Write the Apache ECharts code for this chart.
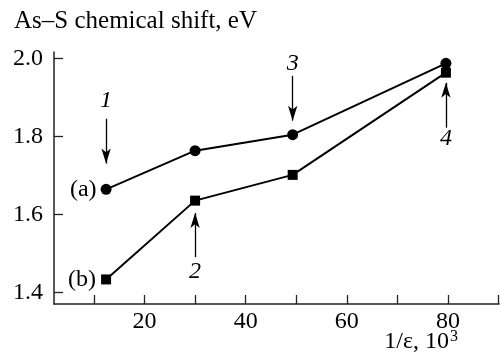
<!DOCTYPE html>
<html>
<head>
<meta charset="utf-8">
<script src="https://cdn.jsdelivr.net/npm/echarts@6/dist/echarts.min.js"></script>
<style>html,body{margin:0;padding:0;background:#fff}#c{width:500px;height:360px}</style>
</head>
<body>
<div id="c"></div>
<script>
var xValues = [12.4, 30.0, 49.3, 79.6];
var seriesA = [1.665, 1.764, 1.805, 1.988];
var seriesB = [1.434, 1.636, 1.702, 1.964];
var xTicks = [10, 20, 30, 40, 50, 60, 70, 80, 90];
var xTickLabels = [20, 40, 60, 80];
var yTicks = [1.4, 1.6, 1.8, 2.0];
// annotation arrows: x, arrow start y, arrow tip y, label y, label text
var arrowX = [12.4, 30.0, 49.3, 79.6];
var arrowFrom = [1.846, 1.491, 1.956, 1.823];
var arrowTo = [1.731, 1.604, 1.841, 1.938];
var arrowLabelY = [1.892, 1.453, 1.986, 1.795];
var arrowLabels = ['1', '2', '3', '4'];
var seriesNames = ['(a)', '(b)'];

var FONT = 'Liberation Serif';
var FS = 24;
var chart = echarts.init(document.getElementById('c'), null, {renderer: 'canvas'});

var arrowLines = arrowX.map(function (x, i) {
  return [
    {coord: [x, arrowFrom[i]], symbol: 'none'},
    {coord: [x, arrowTo[i]], symbol: 'arrow', symbolSize: [7, 15]}
  ];
});
var arrowTexts = arrowX.map(function (x, i) {
  return {value: [x, arrowLabelY[i]], name: arrowLabels[i]};
});

chart.setOption({
  animation: false,
  backgroundColor: '#fff',
  title: [{
    text: 'As–S chemical shift, eV',
    left: 9, top: 4,
    textStyle: {fontFamily: FONT, fontSize: 25, fontWeight: 'normal', color: '#000'}
  }, {
    text: '{n|1/ε, 10}{s|3}',
    right: 37, bottom: 1,
    textStyle: {
      fontFamily: FONT, fontSize: FS, fontWeight: 'normal', color: '#000',
      rich: {
        n: {fontFamily: FONT, fontSize: FS, color: '#000', lineHeight: 26},
        s: {fontFamily: FONT, fontSize: 16, color: '#000', verticalAlign: 'top', lineHeight: 26, padding: [0, 0, 9, 1]}
      }
    }
  }],
  grid: {left: 54, right: 1, top: 52, bottom: 56, containLabel: false},
  xAxis: {
    type: 'value', min: 2.1, max: 90.1,
    splitLine: {show: false},
    axisLine: {show: true, lineStyle: {color: '#222', width: 1.5}},
    axisTick: {show: true, inside: true, length: 9, customValues: xTicks, lineStyle: {color: '#222', width: 1.3}},
    axisLabel: {customValues: xTickLabels, margin: 6, fontFamily: FONT, fontSize: FS, color: '#000'}
  },
  yAxis: {
    type: 'value', min: 1.371, max: 2.017,
    splitLine: {show: false},
    axisLine: {show: true, lineStyle: {color: '#222', width: 1.5}},
    axisTick: {show: true, inside: true, length: 9, customValues: yTicks, lineStyle: {color: '#222', width: 1.3}},
    axisLabel: {customValues: yTicks, margin: 11, fontFamily: FONT, fontSize: FS, color: '#000',
      formatter: function (v) { return v.toFixed(1); }}
  },
  series: [{
    name: seriesNames[0], type: 'line',
    data: xValues.map(function (x, i) { return [x, seriesA[i]]; }),
    symbol: 'circle', symbolSize: 11,
    lineStyle: {color: '#000', width: 2},
    itemStyle: {color: '#000'},
    label: {show: true, position: 'left', distance: 4, fontFamily: FONT, fontSize: FS, color: '#000',
      formatter: function (p) { return p.dataIndex === 0 ? seriesNames[0] : ''; }}
  }, {
    name: seriesNames[1], type: 'line',
    data: xValues.map(function (x, i) { return [x, seriesB[i]]; }),
    symbol: 'rect', symbolSize: 10,
    lineStyle: {color: '#000', width: 2},
    itemStyle: {color: '#000'},
    label: {show: true, position: 'left', distance: 5, fontFamily: FONT, fontSize: FS, color: '#000',
      formatter: function (p) { return p.dataIndex === 0 ? seriesNames[1] : ''; }}
  }, {
    name: 'annotations', type: 'scatter',
    data: arrowTexts, symbolSize: 0, silent: true,
    itemStyle: {opacity: 1, color: '#000'},
    label: {show: true, position: 'inside', fontFamily: FONT, fontStyle: 'italic', fontSize: FS, color: '#000', opacity: 1,
      formatter: function (p) { return p.name; }},
    markLine: {
      silent: true, animation: false,
      symbol: ['none', 'arrow'],
      label: {show: false},
      lineStyle: {color: '#000', width: 1.3, type: 'solid', opacity: 1},
      data: arrowLines
    }
  }]
});
</script>
</body>
</html>
